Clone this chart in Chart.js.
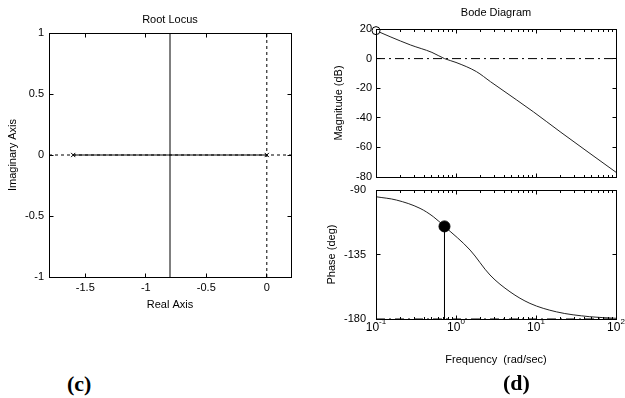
<!DOCTYPE html>
<html>
<head>
<meta charset="utf-8">
<script src="https://cdn.jsdelivr.net/npm/chart.js@4.4.1/dist/chart.umd.min.js"></script>
<style>
  html, body { margin: 0; padding: 0; background: #fff; }
  body { width: 625px; height: 398px; position: relative; overflow: hidden; }
  canvas { position: absolute; }
  #rl  { left: 0;     top: 0;     width: 310px; height: 320px; }
  #mag { left: 310px; top: 0;     width: 315px; height: 182px; }
  #ph  { left: 310px; top: 180px; width: 315px; height: 195px; }
  .tag { position: absolute; font-family: "Liberation Serif", "Times New Roman", serif;
         font-weight: bold; font-size: 22px; line-height: 1; color: #000; }
</style>
</head>
<body>
<canvas id="rl" width="310" height="320"></canvas>
<canvas id="mag" width="315" height="182"></canvas>
<canvas id="ph" width="315" height="195"></canvas>
<div class="tag" style="left:67px; top:373px;">(c)</div>
<div class="tag" style="left:503px; top:372px;">(d)</div>
<script>
// ---- Root locus: open-loop poles and locus branches ----
const poleRe = [-1.6, 0];
const poleIm = [0, 0];
const realLocusRe = [-1.6, 0];      // locus segment on the real axis
const breakawayRe = -0.8;           // branches leave the real axis here
const branchIm = [-1, 1];
const rlXRange = [-1.8, 0.2];
const rlYRange = [-1, 1];
const rlXTicks = [-1.5, -1, -0.5, 0];
const rlYTicks = [-1, -0.5, 0, 0.5, 1];

// ---- Bode diagram ----
const freqRange = [0.1, 100];
const magFreq = [0.1, 0.15, 0.27, 0.5, 0.718, 1.0, 1.8, 2.7, 3.55, 9.3, 20, 100];
const magDb   = [18.9, 14.8, 9.2, 4.2, 0, -2.6, -8.8, -15.6, -20.1, -36, -49.4, -76.8];
const phaseFreq = [0.1, 0.18, 0.355, 0.52, 0.718, 1.5, 2.66, 4.73, 8.4, 18, 47, 100];
const phaseDeg  = [-94.7, -97, -102.8, -108.6, -115.4, -131.9, -149.3, -161, -169.1, -175, -178.4, -179.5];
const magMarker = [0.1, 18.9];       // open circle on the magnitude curve
const phaseMarker = [0.718, -115.4]; // phase at gain crossover
const magRefDb = 0;
const phaseRefDeg = -180;
const magYTicks = [-80, -60, -40, -20, 0, 20];
const phaseYTicks = [-180, -135, -90];
const decadeTicks = [0.1, 1, 10, 100];
const minorTicks = [];
decadeTicks.slice(0, -1).forEach(d => { for (let k = 2; k <= 9; k++) minorTicks.push(d * k); });

const FONT = '"Liberation Sans", Arial, Helvetica, sans-serif';
Chart.defaults.font.family = FONT;
Chart.defaults.font.size = 11;
Chart.defaults.color = '#000';
Chart.defaults.animation = false;
Chart.defaults.responsive = false;
Chart.defaults.devicePixelRatio = 1;
Chart.defaults.plugins.legend.display = false;
Chart.defaults.plugins.tooltip.enabled = false;

const pts = (xs, ys) => xs.map((x, i) => ({ x, y: ys[i] }));
const plain = v => String(v);

// Box frame, inward tick marks, panel title and 10^n labels
const framePlugin = {
  id: 'frame',
  afterDatasetsDraw(chart, _args, o) {
    const { ctx, chartArea: a } = chart;
    const xs = chart.scales.x, ys = chart.scales.y;
    const L = Math.floor(a.left) + 0.5, R = Math.floor(a.right) + 0.5;
    const T = Math.floor(a.top) + 0.5, B = Math.floor(a.bottom) + 0.5;
    ctx.save();
    ctx.strokeStyle = '#000';
    ctx.lineWidth = 1;
    ctx.setLineDash([]);
    ctx.strokeRect(L, T, R - L, B - T);
    ctx.beginPath();
    const vt = (vals, len) => vals.forEach(v => {
      const p = Math.floor(xs.getPixelForValue(v)) + 0.5;
      ctx.moveTo(p, B); ctx.lineTo(p, B - len);
      ctx.moveTo(p, T); ctx.lineTo(p, T + len);
    });
    const ht = (vals, len) => vals.forEach(v => {
      const p = Math.floor(ys.getPixelForValue(v)) + 0.5;
      ctx.moveTo(L, p); ctx.lineTo(L + len, p);
      ctx.moveTo(R, p); ctx.lineTo(R - len, p);
    });
    vt(o.xTicks || [], 4);
    vt(o.xMinor || [], 2.5);
    ht(o.yTicks || [], 4);
    ctx.stroke();

    ctx.fillStyle = '#000';
    ctx.textBaseline = 'middle';
    if (o.title) {
      ctx.font = '11px ' + FONT;
      ctx.textAlign = 'center';
      ctx.fillText(o.title, (a.left + a.right) / 2, o.titleY);
    }
    if (o.logLabels) {
      ctx.textAlign = 'left';
      o.xTicks.forEach(v => {
        const p = xs.getPixelForValue(v);
        const e = String(Math.round(Math.log10(v)));
        ctx.font = '12px ' + FONT;
        const wb = ctx.measureText('10').width;
        ctx.font = '8px ' + FONT;
        const we = ctx.measureText(e).width;
        const x0 = p - (wb + we) / 2;
        ctx.font = '12px ' + FONT;
        ctx.fillText('10', x0, o.labelY);
        ctx.font = '8px ' + FONT;
        ctx.fillText(e, x0 + wb, o.labelY - 6);
      });
    }
    ctx.restore();
  }
};

function fixWidth(w) {
  return s => { s.width = w; s.paddingTop = s.paddingBottom = s.paddingLeft = s.paddingRight = 0; };
}
function fixHeight(h) {
  return s => { s.height = h; s.paddingTop = s.paddingBottom = s.paddingLeft = s.paddingRight = 0; };
}
function setTicks(vals) {
  return s => { s.ticks = vals.map(v => ({ value: v })); };
}
const noGrid = { display: false, drawTicks: false };
const noBorder = { display: false };

// ---------- Root locus ----------
new Chart(document.getElementById('rl'), {
  type: 'scatter',
  data: {
    datasets: [
      { data: pts(poleRe, poleIm), pointStyle: 'crossRot', pointRadius: 3,
        borderColor: '#000', borderWidth: 1, showLine: false, clip: false },
      { data: pts(realLocusRe, [0, 0]), showLine: true, borderColor: '#000',
        borderWidth: 1, pointRadius: 0, clip: false },
      { data: pts([breakawayRe, breakawayRe], branchIm), showLine: true, borderColor: '#000',
        borderWidth: 1, pointRadius: 0, clip: false },
      { data: pts(rlXRange, [0, 0]), showLine: true, borderColor: '#000', borderWidth: 1,
        borderDash: [3, 3], pointRadius: 0, clip: false },
      { data: pts([0, 0], rlYRange), showLine: true, borderColor: '#000', borderWidth: 1,
        borderDash: [3, 3], pointRadius: 0, clip: false }
    ]
  },
  options: {
    layout: { padding: { left: 0, top: 33, right: 19, bottom: 0 } },
    scales: {
      x: { type: 'linear', min: rlXRange[0], max: rlXRange[1],
           grid: noGrid, border: noBorder,
           afterBuildTicks: setTicks(rlXTicks), afterFit: fixHeight(43),
           ticks: { padding: 4, maxRotation: 0, autoSkip: false, callback: plain },
           title: { display: true, text: 'Real Axis', padding: { top: 0, bottom: 8 } } },
      y: { type: 'linear', min: rlYRange[0], max: rlYRange[1],
           grid: noGrid, border: noBorder,
           afterBuildTicks: setTicks(rlYTicks), afterFit: fixWidth(49),
           ticks: { padding: 5, autoSkip: false, callback: plain },
           title: { display: true, text: 'Imaginary Axis', padding: { top: 6, bottom: 0 } } }
    },
    plugins: { frame: { xTicks: rlXTicks, yTicks: rlYTicks, title: 'Root Locus', titleY: 20 } }
  },
  plugins: [framePlugin]
});

// ---------- Bode magnitude ----------
new Chart(document.getElementById('mag'), {
  type: 'scatter',
  data: {
    datasets: [
      { data: [{ x: magMarker[0], y: magMarker[1] }], pointRadius: 4, pointBackgroundColor: '#fff',
        pointBorderColor: '#000', pointBorderWidth: 1, showLine: false, clip: false },
      { data: pts(magFreq, magDb), showLine: true, borderColor: '#222', borderWidth: 1,
        pointRadius: 0, cubicInterpolationMode: 'monotone', clip: false },
      { data: pts(freqRange, [magRefDb, magRefDb]), showLine: true, borderColor: '#000',
        borderWidth: 1, borderDash: [9, 4, 2, 4], pointRadius: 0 }
    ]
  },
  options: {
    layout: { padding: { left: 0, top: 29, right: 9, bottom: 5 } },
    scales: {
      x: { type: 'logarithmic', display: false, min: freqRange[0], max: freqRange[1],
           afterBuildTicks: setTicks(decadeTicks), afterFit: fixHeight(0) },
      y: { type: 'linear', min: -80, max: 20, grid: noGrid, border: noBorder,
           afterBuildTicks: setTicks(magYTicks), afterFit: fixWidth(66),
           ticks: { padding: 4, autoSkip: false, callback: plain },
           title: { display: true, text: 'Magnitude (dB)', padding: { top: 22, bottom: 0 } } }
    },
    plugins: { frame: { xTicks: decadeTicks, xMinor: minorTicks, yTicks: magYTicks,
                        title: 'Bode Diagram', titleY: 13 } }
  },
  plugins: [framePlugin]
});

// ---------- Bode phase ----------
new Chart(document.getElementById('ph'), {
  type: 'scatter',
  data: {
    datasets: [
      { data: [{ x: phaseMarker[0], y: phaseMarker[1] }], pointRadius: 5.5, pointBackgroundColor: '#000',
        pointBorderColor: '#000', showLine: false, clip: false },
      { data: pts([phaseMarker[0], phaseMarker[0]], [phaseMarker[1], phaseRefDeg]), showLine: true,
        borderColor: '#000', borderWidth: 1, pointRadius: 0, clip: false },
      { data: pts(phaseFreq, phaseDeg), showLine: true, borderColor: '#222', borderWidth: 1,
        pointRadius: 0, cubicInterpolationMode: 'monotone', clip: false },
      { data: pts(freqRange, [phaseRefDeg, phaseRefDeg]), showLine: true, borderColor: '#000',
        borderWidth: 1, borderDash: [9, 4, 2, 4], pointRadius: 0, clip: false }
    ]
  },
  options: {
    layout: { padding: { left: 0, top: 10, right: 9, bottom: 0 } },
    scales: {
      x: { type: 'logarithmic', min: freqRange[0], max: freqRange[1],
           grid: noGrid, border: noBorder,
           afterBuildTicks: setTicks(decadeTicks), afterFit: fixHeight(56),
           ticks: { display: false },
           title: { display: true, text: 'Frequency  (rad/sec)', padding: { top: 0, bottom: 8 } } },
      y: { type: 'linear', min: -180, max: -90, grid: noGrid, border: noBorder,
           afterBuildTicks: setTicks(phaseYTicks), afterFit: fixWidth(66),
           ticks: { padding: 10, autoSkip: false, callback: plain },
           title: { display: true, text: 'Phase (deg)', padding: { top: 15, bottom: 0 } } }
    },
    plugins: { frame: { xTicks: decadeTicks, xMinor: minorTicks, yTicks: phaseYTicks,
                        logLabels: true, labelY: 148 } }
  },
  plugins: [framePlugin]
});
</script>
</body>
</html>
